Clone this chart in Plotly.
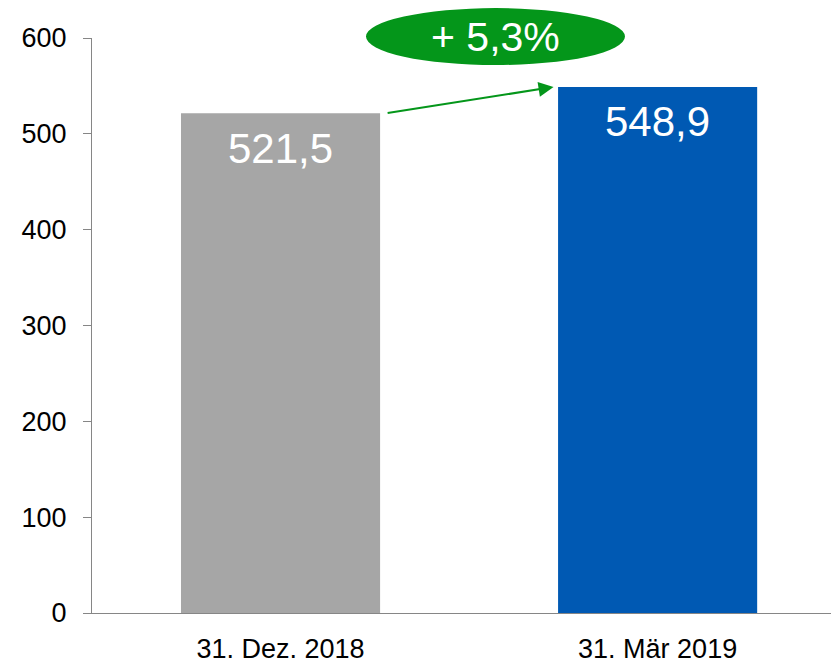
import plotly.graph_objects as go

categories = ["31. Dez. 2018", "31. Mär 2019"]
values = [521.5, 548.9]
bar_colors = ["#A6A6A6", "#0059B3"]
y_ticks = [0, 100, 200, 300, 400, 500, 600]

FONT = "Liberation Sans, Arial, sans-serif"
GREEN = "#04961A"

def de(v, nd=1):
    return f"{v:.{nd}f}".replace(".", ",")

xs = list(range(len(categories)))
fig = go.Figure()
fig.add_trace(go.Bar(
    x=xs, y=values, width=0.528,
    marker=dict(color=bar_colors, line=dict(width=0)),
    hoverinfo="skip", showlegend=False,
))

# value labels inside bars
for xi, v in zip(xs, values):
    fig.add_annotation(x=xi, y=v, xref="x", yref="y", text=de(v),
                       showarrow=False, yanchor="middle", yshift=-35,
                       font=dict(family=FONT, size=42, color="white"))

# growth arrow from gray bar top to blue bar top
half = 0.528 / 2
fig.add_annotation(x=xs[1] - half - 0.012, y=values[1], xref="x", yref="y",
                   ax=xs[0] + half + 0.016, ay=values[0], axref="x", ayref="y",
                   text="", showarrow=True, arrowhead=2, arrowsize=1.5,
                   arrowwidth=2, arrowcolor=GREEN, standoff=0, startstandoff=0)

# growth bubble
growth = (values[1] / values[0] - 1) * 100
fig.add_shape(type="circle", xref="paper", yref="paper",
              x0=0.3668, x1=0.7135, y0=0.953, y1=1.052,
              fillcolor=GREEN, line=dict(width=0), layer="above")
fig.add_annotation(x=0.5405, y=1.0025, xref="paper", yref="paper",
                   text="+ " + de(growth) + "%", showarrow=False,
                   xanchor="center", yanchor="middle",
                   font=dict(family=FONT, size=41, color="white"))

fig.update_layout(
    width=831, height=656,
    margin=dict(l=84, r=0, t=30, b=49),
    paper_bgcolor="white", plot_bgcolor="white",
    font=dict(family=FONT, size=27, color="black"),
    xaxis=dict(range=[-0.5, 1.481], tickmode="array", tickvals=xs,
               ticktext=categories, showgrid=False, zeroline=False,
               showline=True, linecolor="#868686", linewidth=1,
               ticks="", tickfont=dict(size=27, family=FONT, color="black"),
               ticklabelstandoff=12, fixedrange=True),
    yaxis=dict(range=[0, 600], tickmode="array", tickvals=y_ticks,
               ticktext=[str(t) for t in y_ticks], showgrid=False,
               zeroline=False, showline=True, linecolor="#868686",
               linewidth=1, ticks="outside", ticklen=8, tickcolor="#868686",
               tickfont=dict(size=27, family=FONT, color="black"),
               ticklabelstandoff=11, fixedrange=True),
)

fig.write_html("out.html", config={"displayModeBar": False})
